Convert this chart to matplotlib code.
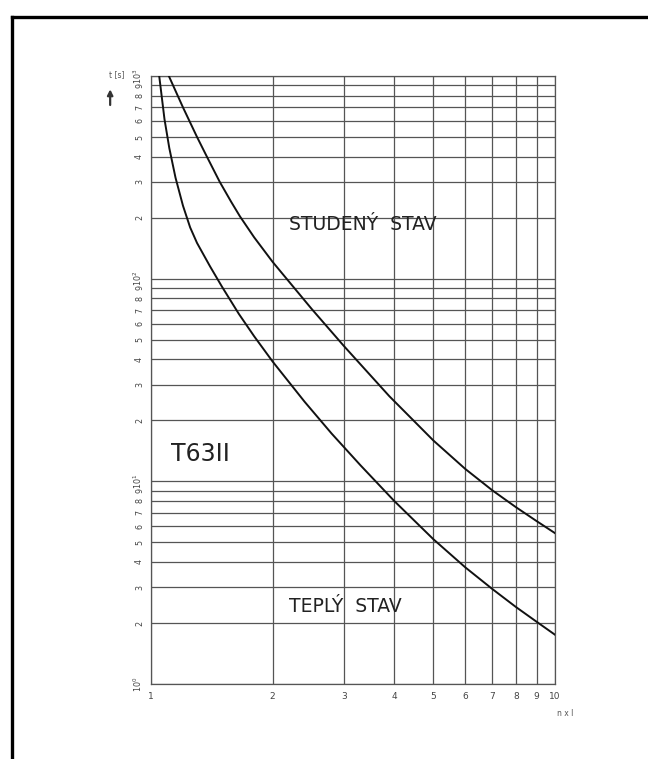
import matplotlib
matplotlib.use("Agg")
import matplotlib.pyplot as plt
import numpy as np
from matplotlib.lines import Line2D

# odečtené body křivek (n x I, t [s])
studeny_x = [1.107, 1.2, 1.3, 1.375, 1.48, 1.58, 1.66, 1.8, 2.0, 2.5, 3.0, 3.89, 5.0, 6.0, 7.0, 8.0, 9.0, 10.0]
studeny_t = [1000, 700, 500, 400, 300, 239, 203, 160, 121, 70.8, 46.6, 26.3, 15.9, 11.5, 9.02, 7.46, 6.37, 5.55]
teply_x = [1.048, 1.08, 1.11, 1.15, 1.2, 1.25, 1.3, 1.4, 1.5, 1.65, 1.8, 2.0, 2.4, 2.8, 3.3, 4.0, 5.0, 6.0, 7.0, 8.0, 9.0, 10.0]
teply_t = [1000, 612, 441, 315, 229, 179, 150, 115, 91, 67, 52, 39, 24.7, 17.2, 12.0, 8.0, 5.18, 3.76, 2.94, 2.40, 2.03, 1.75]

x_ticks = [1, 2, 3, 4, 5, 6, 7, 8, 9, 10]
decades = [1, 10, 100, 1000]

fig = plt.figure(figsize=(6.48, 7.59), dpi=100)
ax = fig.add_axes([0.233, 0.0988, 0.6235, 0.8011])
ax.set_xscale('log')
ax.set_yscale('log')
ax.set_xlim(1, 10)
ax.set_ylim(1, 1000)

grid_c = '#555555'
# svislé čáry mřížky
for xv in x_ticks:
    ax.axvline(xv, color=grid_c, lw=0.9, zorder=1)
# vodorovné čáry mřížky
for d in decades[:-1]:
    for m in range(1, 10):
        ax.axhline(d * m, color=grid_c, lw=0.9, zorder=1)
ax.axhline(1000, color=grid_c, lw=0.9, zorder=1)

ax.plot(studeny_x, studeny_t, color='#111111', lw=1.4, zorder=3)
ax.plot(teply_x, teply_t, color='#111111', lw=1.4, zorder=3)

for s in ax.spines.values():
    s.set_color(grid_c)
    s.set_linewidth(0.9)

ax.set_xticks(x_ticks)
ax.set_xticklabels([str(v) for v in x_ticks], fontsize=6.5, color='#444444')
ax.xaxis.set_minor_locator(matplotlib.ticker.NullLocator())
ax.tick_params(axis='x', length=0, pad=6)

yt = []
yl = []
for d in decades:
    for m in range(1, 10):
        v = d * m
        if v > 1000:
            break
        yt.append(v)
        if m == 1:
            yl.append('$10^{%d}$' % int(round(np.log10(v))))
        else:
            yl.append(str(m))
ax.set_yticks(yt)
ax.set_yticklabels(yl, fontsize=5.8, color='#444444', rotation=90, va='center')
ax.yaxis.set_minor_locator(matplotlib.ticker.NullLocator())
ax.tick_params(axis='y', length=0, pad=5)

ax.text(2.2, 184, 'STUDENÝ  STAV', fontsize=13.5, color='#222222', va='center')
ax.text(1.12, 13.6, 'T63II', fontsize=17, color='#222222', va='center')
ax.text(2.2, 2.4, 'TEPLÝ  STAV', fontsize=13.5, color='#222222', va='center')

fig.text(0.872, 0.057, 'n x I', fontsize=5.5, color='#555555', ha='center')
fig.text(0.180, 0.899, 't [s]', fontsize=5.5, color='#555555', ha='center')
ax.annotate('', xy=(0.170, 0.886), xytext=(0.170, 0.858), xycoords='figure fraction',
            arrowprops=dict(arrowstyle='-|>', color='#333333', lw=1.6, mutation_scale=8))

# rámeček
fig.add_artist(Line2D([0.019, 1.0], [0.978, 0.978], color='black', lw=2.4, transform=fig.transFigure))
fig.add_artist(Line2D([0.019, 0.019], [0.978, 0.0], color='black', lw=2.4, transform=fig.transFigure))

fig.savefig('out.png', dpi=100)
